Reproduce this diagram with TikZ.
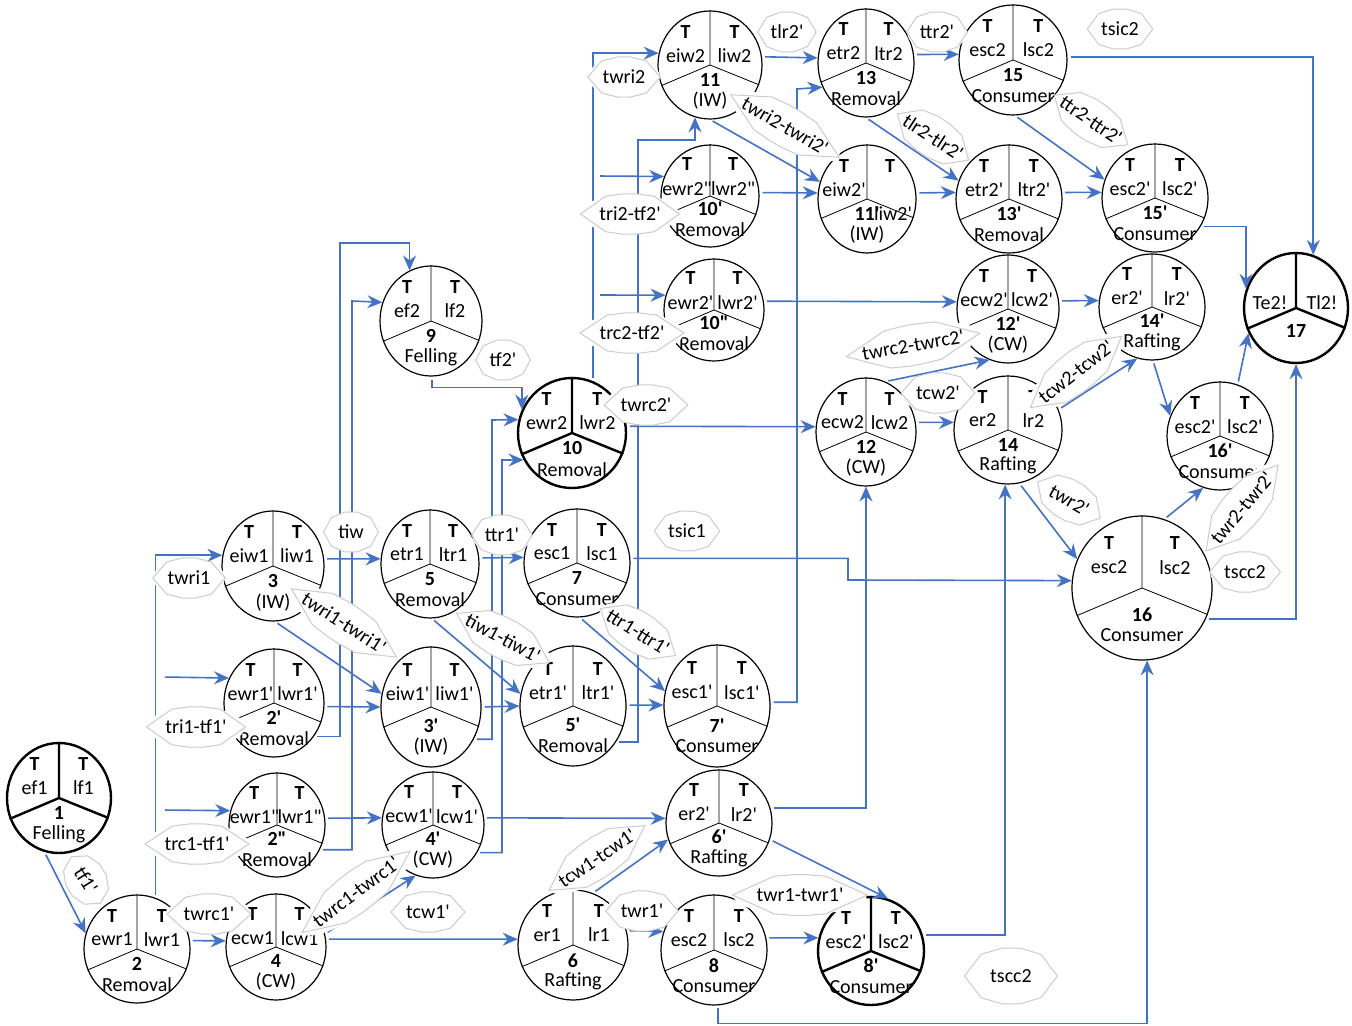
\documentclass[tikz,border=0pt]{standalone}
\usepackage{fontspec}
\setmainfont{Carlito}
\usetikzlibrary{arrows.meta,shapes.geometric}

\definecolor{flowblue}{RGB}{68,114,196}
\newcommand{\pr}{\textquotesingle}
\newcommand{\ppr}{\textquotedbl}

\tikzset{
  stage/.style={ellipse, draw, line width=0.6pt, inner sep=0pt},
  heavy/.style={line width=1.2pt},
  flow/.style={draw=flowblue, line width=0.8pt, shorten <=1.5pt,
    -{Stealth[length=7.5pt,width=6.5pt,inset=2.5pt]}},
  tlbl/.style={ellipse, fill=white, inner xsep=2pt, inner ysep=0pt,
    minimum height=20pt, minimum width=27pt},
  tlong/.style={tlbl, inner xsep=-2pt},
  lblrim/.style={draw=gray!40, line width=0.5pt},
  tmark/.style={inner sep=0pt, font=\bfseries},
  ttxt/.style={inner sep=0pt},
}

% stage circle: [style]{name}{x,y}{rx}{ry}{left}{right}{number}{kind}
\newcommand{\stage}[9][]{%
  \node[stage,#1,minimum width=#4pt,minimum height=#5pt] (#2) at (#3) {};
  \draw[#1] (#2.north) -- (#2.center) -- (#2.203) (#2.center) -- (#2.-22);
  \node[tmark] at ([shift={({-0.47*#4},{-0.62*#5})}]#2.center) {T};
  \node[tmark] at ([shift={({0.47*#4},{-0.62*#5})}]#2.center) {T};
  \node[ttxt] at ([shift={({-0.47*#4},{-0.62*#5+24})}]#2.center) {#6};
  \node[ttxt] at ([shift={({0.47*#4},{-0.62*#5+24})}]#2.center) {#7};
  \node[ttxt,font=\bfseries] at ([shift={(0,{0.66*#5-21})}]#2.center) {#8};
  \node[ttxt] at ([shift={(0,{0.66*#5})}]#2.center) {#9};
}

\begin{document}
\begin{tikzpicture}[x=0.5pt, y=-0.5pt]
\useasboundingbox (0,0) rectangle (1352,1026);

% stages
\stage[heavy]{n1}{59,798}{52}{55}{ef1}{lf1}{1}{Felling}
\stage{n2}{137,949}{53}{54}{ewr1}{lwr1}{2}{Removal}
\stage{n2p}{274,703}{50}{54}{ewr1\pr}{lwr1\pr}{2\pr}{Removal}
\stage{n2pp}{277,825}{48}{52}{ewr1\ppr}{lwr1\ppr}{2\ppr}{Removal}
\stage{n3}{273,566}{51}{55}{eiw1}{liw1}{3}{(IW)}
\stage{n3p}{431,707}{50}{60}{eiw1\pr}{liw1\pr}{3\pr}{(IW)}
\stage{n4}{276,947}{50}{53}{ecw1}{lcw1}{4}{(CW)}
\stage{n4p}{433,825}{51}{53}{ecw1\pr}{lcw1\pr}{4\pr}{(CW)}
\stage{n5}{430,564}{49}{54}{etr1}{ltr1}{5}{Removal}
\stage{n5p}{573,706}{53}{60}{etr1\pr}{ltr1\pr}{5\pr}{Removal}
\stage{n6}{573,945}{55}{55}{er1}{lr1}{6}{Rafting}
\stage{n6p}{719,823}{53}{53}{er2\pr}{lr2\pr}{6\pr}{Rafting}
\stage{n7}{577,563}{53}{54}{esc1}{lsc1}{7}{Consumer}
\stage{n7p}{717,706}{53}{61}{esc1\pr}{lsc1\pr}{7\pr}{Consumer}
\stage{n8}{714,950}{53}{55}{esc2}{lsc2}{8}{Consumer}
\stage[heavy]{n8p}{871,951}{53}{54}{esc2\pr}{lsc2\pr}{8\pr}{Consumer}
\stage{n9}{431,321}{51}{55}{ef2}{lf2}{9}{Felling}
\stage[heavy]{n10}{572,433}{54}{55}{ewr2}{lwr2}{10}{Removal}
\stage{n10p}{710,196}{49}{51}{ewr2\ppr}{lwr2\ppr}{10\pr}{Removal}
\stage{n10pp}{714,310}{50}{51}{ewr2\pr}{lwr2\pr}{10\ppr}{Removal}
\stage{n11}{710,65}{52}{54}{eiw2}{liw2}{11}{(IW)}
\stage{n11p}{867,199}{49}{54}{eiw2\pr}{}{11\pr}{(IW)}
\node[ttxt] at ([shift={(26,15)}]n11p.center) {liw2\pr};
\stage{n12}{866,432}{50}{54}{ecw2}{lcw2}{12}{(CW)}
\stage{n12p}{1008,309}{51}{54}{ecw2\pr}{lcw2\pr}{12\pr}{(CW)}
\stage{n13}{866,63}{48}{54}{etr2}{ltr2}{13}{Removal}
\stage{n13p}{1009,199}{53}{54}{etr2\pr}{ltr2\pr}{13\pr}{Removal}
\stage{n14}{1008,430}{54}{54}{er2}{lr2}{14}{Rafting}
\stage{n14p}{1152,307}{53}{53}{er2\pr}{lr2\pr}{14\pr}{Rafting}
\stage{n15}{1013,60}{54}{55}{esc2}{lsc2}{15}{Consumer}
\stage{n15p}{1155,198}{53}{54}{esc2\pr}{lsc2\pr}{15\pr}{Consumer}
\stage{n16}{1142,588}{70}{72}{esc2}{lsc2}{16}{Consumer}
\stage{n16p}{1220,436}{53}{54}{esc2\pr}{lsc2\pr}{16\pr}{Consumer}

% final stage
\node[stage,heavy,minimum width=52pt,minimum height=55pt] (n17) at (1296,308) {};
\draw[heavy] (n17.north) -- (n17.center) -- (n17.203) (n17.center) -- (n17.-22);
\node[ttxt] at ([shift={(-26,-5)}]n17.center) {Te2!};
\node[ttxt] at ([shift={(26,-5)}]n17.center) {Tl2!};
\node[ttxt,font=\bfseries] at ([shift={(0,23)}]n17.center) {17};

% first line
\coordinate (b2p) at (162,677);
\coordinate (b2pp) at (162,810);
\draw[flow] (n1.-105) -- (n2.163);
\draw[flow] (n2.9) -- (n4.173);
\draw[flow] (n2.70) |- (n3.168);
\draw[flow] (b2p) -- (n2p.151);
\draw[flow] (b2pp) -- (n2pp.163);
\draw[flow] (n2p.-40) -| (340,243) -| (n9.113);
\draw[flow] (n2pp.-30) -| (352,301) -- (n9.159);
\draw[flow] (n2p.-4) -- (n3p.180);
\draw[flow] (n2pp.8) -- (n4p.172);
\draw[flow] (n3.8) -- (n5.174);
\draw[flow] (n3.-88) -- (n3p.165);
\draw[flow] (n5.-88) -- (n5p.167);
\draw[flow] (n7.-87) -- (n7p.164);
\draw[flow] (n3p.0) -- (n5p.180);
\draw[flow] (n5p.1) -- (n7p.179);
\draw[flow] (n5.7) -- (n7.174);
\draw[flow] (n3p.-37) -| (492,420) -- (n10.166);
\draw[flow] (n4p.-32) -| (502,460) -- (n10.209);
\draw[flow] (n4p.8) -- (n6p.175);
\draw[flow] (n4.15) -- (n4p.-109);
\draw[flow] (n4.9) -- (n6.174);
\draw[flow] (n6.69) -- (n6p.198);
\draw[flow] (n6.15) -- (n8.160);
\draw[flow] (n8.13) -- (n8p.166);
\draw[flow] (n8.-86) -- ++(0,18) -| (n16.-86);
\draw[flow] (n8p.17) -| (n14.-93);
\draw[flow] (n6p.16) -| (n12.-90);
\draw[flow] (n6p.-18) -- (n8p.72);
\draw[flow] (n7.5) -| (848,580) -- (n16.174);

% second line
\coordinate (b10p) at (597,176);
\coordinate (b10pp) at (597,295);
\draw[flow] (n9.-89) -- ++(0,11) -| (n10.155);
\draw[flow] (n10.68) |- (n11.167);
\draw[flow] (b10p) -- (n10p.157);
\draw[flow] (b10pp) -- (n10pp.163);
\draw[flow] (n5p.-40) -| (638,140) -| (n11.-106);
\draw[flow] (n7p.4) -| (797,89) -- (n13.209);
\draw[flow] (n10.7) -- (n12.174);
\draw[flow] (n10pp.10) -- (n12p.172);
\draw[flow] (n10p.4) -- (n11p.173);
\draw[flow] (n11.9) -- (n13.174);
\draw[flow] (n13.10) -- (n15.174);
\draw[flow] (n11.-90) -- (n11p.160);
\draw[flow] (n13.-90) -- (n13p.160);
\draw[flow] (n11p.7) -- (n13p.173);
\draw[flow] (n13p.7) -- (n15p.174);
\draw[flow] (n15.-88) -- (n15p.160);
\draw[flow] (n15.3) -| (n17.72);
\draw[flow] (n15p.-32) -| (n17.159);
\draw[flow] (n16.-26) -| (n17.-90);
\draw[flow] (n16p.71) -- (n17.208);
\draw[flow] (n16.72) -- (n16p.-108);
\draw[flow] (n14.-78) -- (n16.156);
\draw[flow] (n14.22) -- (n14p.-106);
\draw[flow] (n14p.-89) -- (n16p.158);
\draw[flow] (n12.11) -- (n14.172);
\draw[flow] (n12.69) -- (n12p.-110);
\draw[flow] (n12p.9) -- (n14p.173);

% time labels
\node[tlbl, rotate=-58] (tf1p) at (86,880) {tf1\pr};
\node[tlbl] (twrc1p) at (209,914) {twrc1\pr};
\node[tlbl] (trc1tf1p) at (197,844) {trc1-tf1\pr};
\node[tlbl] (tri1tf1p) at (196,727) {tri1-tf1\pr};
\node[tlbl] (twri1) at (189,578) {twri1};
\node[tlbl] (tiw) at (351,532) {tiw};
\node[tlong, rotate=-33] (twri1x) at (344,623) {twri1-twri1\pr};
\node[tlong, rotate=37] (twrc1x) at (356,892) {twrc1-twrc1\pr};
\node[tlbl] (tcw1p) at (428,912) {tcw1\pr};
\node[tlong, rotate=-28] (tiw1x) at (503,638) {tiw1-tiw1\pr};
\node[tlbl] (ttr1p) at (502,535) {ttr1\pr};
\node[tlbl] (tsic1) at (687,531) {tsic1};
\node[tlong, rotate=-32] (ttr1x) at (638,632) {ttr1-ttr1\pr};
\node[tlong, rotate=34] (tcw1x) at (597,858) {tcw1-tcw1\pr};
\node[tlbl] (twr1p) at (642,911) {twr1\pr};
\node[tlbl] (twr1x) at (800,895) {twr1-twr1\pr};
\node[tlbl, minimum width=46pt, minimum height=28pt] (tscc2a) at (1011,976) {tscc2};
\node[tlbl] (tf2p) at (503,360) {tf2\pr};
\node[tlbl] (twrc2p) at (646,405) {twrc2\pr};
\node[tlbl] (trc2tf2p) at (632,333) {trc2-tf2\pr};
\node[tlbl] (tri2tf2p) at (630,214) {tri2-tf2\pr};
\node[tlbl] (twri2) at (624,77) {twri2};
\node[tlbl] (tlr2p) at (787,32) {tlr2\pr};
\node[tlbl] (ttr2p) at (937,32) {ttr2\pr};
\node[tlbl] (tsic2) at (1120,29) {tsic2};
\node[tlong, rotate=-30] (twri2x) at (785,126) {twri2-twri2\pr};
\node[tlong, rotate=-33] (tlr2x) at (933,137) {tlr2-tlr2\pr};
\node[tlong, rotate=-34] (ttr2x) at (1091,120) {ttr2-ttr2\pr};
\node[tlong, rotate=10] (twrc2x) at (913,345) {twrc2-twrc2\pr};
\node[tlbl] (tcw2p) at (938,393) {tcw2\pr};
\node[tlong, rotate=38] (tcw2x) at (1076,372) {tcw2-tcw2\pr};
\node[tlbl, rotate=-30] (twr2p) at (1069,500) {twr2\pr};
\node[tlong, rotate=50] (twr2x) at (1242,508) {twr2-twr2\pr};
\node[tlbl] (tscc2b) at (1245,572) {tscc2};

% polygon rims of the labels
\foreach \lb in {tf1p,twrc1p,trc1tf1p,tri1tf1p,twri1,tiw,twri1x,twrc1x,tcw1p,
    tiw1x,ttr1p,tsic1,ttr1x,tcw1x,twr1p,twr1x,tscc2a,tf2p,twrc2p,trc2tf2p,
    tri2tf2p,twri2,tlr2p,ttr2p,tsic2,twri2x,tlr2x,ttr2x,twrc2x,tcw2p,tcw2x,
    twr2p,twr2x,tscc2b}
  \draw[lblrim] (\lb.0) \foreach \a in {36,72,...,324} {-- (\lb.\a)} -- cycle;
\end{tikzpicture}
\end{document}
